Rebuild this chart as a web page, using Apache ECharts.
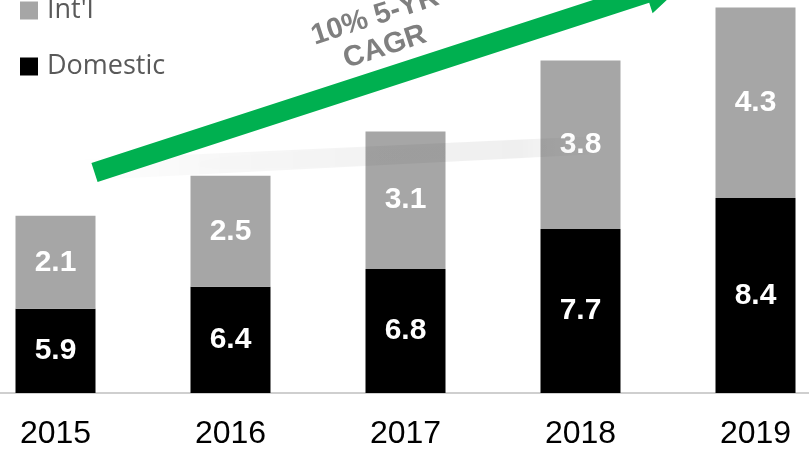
<!DOCTYPE html>
<html>
<head>
<meta charset="utf-8">
<script src="https://cdn.jsdelivr.net/npm/echarts@6/dist/echarts.min.js"></script>
<style>
  html, body { margin: 0; padding: 0; background: #fff; overflow: hidden; }
  #chart { position: absolute; left: -32px; top: 0; width: 875px; height: 450px; }
</style>
</head>
<body>
<div id="chart"></div>
<script>
var years = ['2015', '2016', '2017', '2018', '2019'];
var domestic = [5.9, 6.4, 6.8, 7.7, 8.4];
var intl = [2.1, 2.5, 3.1, 3.8, 4.3];

var chart = echarts.init(document.getElementById('chart'));

// container sits 32px left of the window, so shift overlay shapes
var off = 32;
// arrow runs along ~18 degrees
var ang = 18 * Math.PI / 180;
var dx = Math.cos(ang), dy = -Math.sin(ang);
var nx = Math.sin(ang), ny = Math.cos(ang);
var sx = 94.5 + off, sy = 172.5;
function pt(t, w) { return [sx + t * dx + w * nx, sy + t * dy + w * ny]; }
var arrowPts = [pt(0, -10), pt(580, -10), pt(580, -21), pt(625, 0), pt(580, 21), pt(580, 10), pt(0, 10)];

var barLabel = {
  show: true,
  position: 'inside',
  color: '#fff',
  fontFamily: 'Liberation Sans',
  fontWeight: 'bold',
  fontSize: 30
};

chart.setOption({
  animation: false,
  grid: { left: 0, right: 0, top: 3, bottom: 50 },
  legend: {
    data: ["Int'l", 'Domestic'],
    orient: 'vertical',
    left: 15 + off,
    top: -8,
    icon: 'rect',
    itemWidth: 18,
    itemHeight: 18,
    itemGap: 29,
    textStyle: {
      fontFamily: 'Open Sans',
      fontSize: 27,
      color: '#595959',
      padding: [0, 0, 0, 4]
    }
  },
  xAxis: {
    type: 'category',
    data: years,
    axisLine: { lineStyle: { color: '#bfbfbf', width: 1.5 } },
    axisTick: { length: 7, lineStyle: { color: '#d9d9d9' } },
    axisLabel: {
      fontFamily: 'Liberation Sans',
      fontSize: 32,
      color: '#000',
      margin: 25
    }
  },
  yAxis: {
    type: 'value',
    min: 4,
    max: 12.8,
    show: false,
    splitLine: { show: false }
  },
  series: [
    {
      name: 'Domestic',
      type: 'bar',
      stack: 'total',
      barWidth: 80,
      data: domestic,
      itemStyle: { color: '#000000' },
      label: barLabel
    },
    {
      name: "Int'l",
      type: 'bar',
      stack: 'total',
      barWidth: 80,
      data: intl,
      itemStyle: { color: '#a6a6a6' },
      label: barLabel
    }
  ],
  graphic: [
    {
      type: 'polygon',
      z: 100,
      shape: { points: [[70 + off, 160], [600 + off, 136], [600 + off, 154], [70 + off, 181]] },
      style: {
        fill: {
          type: 'linear', x: 0, y: 0, x2: 1, y2: 0,
          colorStops: [
            { offset: 0, color: 'rgba(0,0,0,0)' },
            { offset: 0.3, color: 'rgba(0,0,0,0.03)' },
            { offset: 0.85, color: 'rgba(0,0,0,0.06)' },
            { offset: 1, color: 'rgba(0,0,0,0)' }
          ]
        },
        shadowBlur: 8,
        shadowColor: 'rgba(0,0,0,0.08)'
      }
    },
    {
      type: 'polygon',
      z: 101,
      shape: { points: arrowPts },
      style: { fill: '#00b050' }
    },
    {
      type: 'text',
      z: 102,
      x: 380 + off,
      y: 32,
      rotation: ang,
      style: {
        text: '10% 5-YR\nCAGR',
        fill: '#7f7f7f',
        font: 'bold 29px "Liberation Sans"',
        align: 'center',
        verticalAlign: 'middle',
        lineHeight: 32
      }
    }
  ]
});
</script>
</body>
</html>
